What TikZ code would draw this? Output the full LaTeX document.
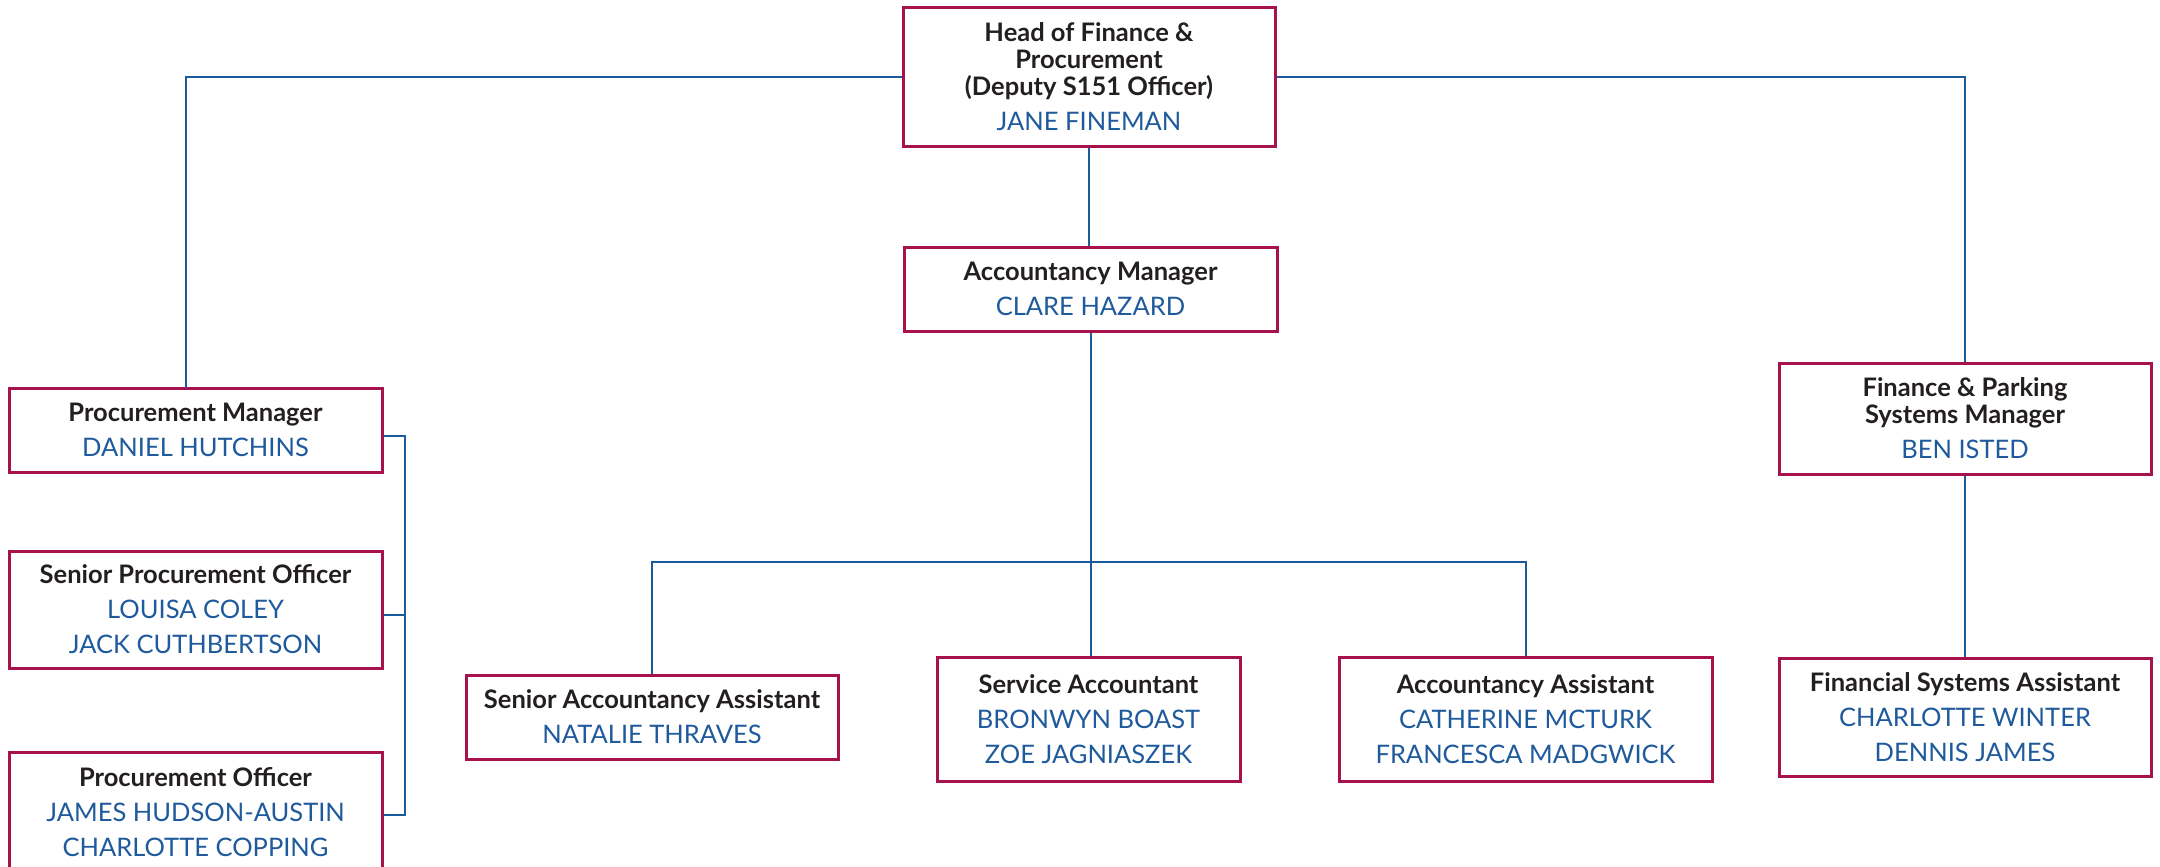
\documentclass[tikz,border=0pt]{standalone}
\usepackage{fontspec}
\setmainfont{Lato}
\definecolor{boxred}{HTML}{A8124C}
\definecolor{nameblue}{HTML}{1F5A9C}
\definecolor{lineblue}{HTML}{1C5A9E}
\definecolor{titleblack}{HTML}{231F20}
\newcommand{\ttl}[1]{{\bfseries\color{titleblack}#1}}
\newcommand{\nm}[1]{{\color{nameblue}#1}}
\tikzset{
  post/.style={draw=boxred, line width=3pt, fill=white, inner sep=0pt, align=center,
    font=\fontsize{25.5}{35}\selectfont},
  link/.style={draw=lineblue, line width=2pt}
}
\begin{document}
\begin{tikzpicture}[x=1pt,y=-1pt]
\useasboundingbox (0,0) rectangle (2160,867);
% nodes
\node[post, minimum width=372pt, minimum height=138pt] (head) at (1089,77)
  {\ttl{Head of Finance \&}\\[-8pt]\ttl{Procurement}\\[-8pt]\ttl{(Deputy S151 Officer)}\\\nm{JANE FINEMAN}};
\node[post, minimum width=373pt, minimum height=84pt] (acc) at (1090.5,289)
  {\ttl{Accountancy Manager}\\\nm{CLARE HAZARD}};
\node[post, minimum width=373pt, minimum height=84pt] (pm) at (195.5,430)
  {\ttl{Procurement Manager}\\\nm{DANIEL HUTCHINS}};
\node[post, minimum width=373pt, minimum height=117pt] (spo) at (195.5,609.5)
  {\ttl{Senior Procurement Officer}\\\nm{LOUISA COLEY}\\\nm{JACK CUTHBERTSON}};
\node[post, minimum width=373pt, minimum height=120pt] (po) at (195.5,812)
  {\ttl{Procurement Officer}\\\nm{JAMES HUDSON-AUSTIN}\\\nm{CHARLOTTE COPPING}};
\node[post, minimum width=372pt, minimum height=111pt] (fpsm) at (1965,418.5)
  {\ttl{Finance \& Parking}\\[-8pt]\ttl{Systems Manager}\\\nm{BEN ISTED}};
\node[post, minimum width=372pt, minimum height=118pt] (fsa) at (1965,717)
  {\ttl{Financial Systems Assistant}\\\nm{CHARLOTTE WINTER}\\\nm{DENNIS JAMES}};
\node[post, minimum width=372pt, minimum height=84pt] (saa) at (652,717)
  {\ttl{Senior Accountancy Assistant}\\\nm{NATALIE THRAVES}};
\node[post, minimum width=303pt, minimum height=124pt] (sa) at (1088.5,719.5)
  {\ttl{Service Accountant}\\\nm{BRONWYN BOAST}\\\nm{ZOE JAGNIASZEK}};
\node[post, minimum width=373pt, minimum height=124pt] (aa) at (1525.5,719.5)
  {\ttl{Accountancy Assistant}\\\nm{CATHERINE MCTURK}\\\nm{FRANCESCA MADGWICK}};
% helper coordinates
\coordinate (pmtop) at (186,388);
\coordinate (accbus) at (1090,562);
\coordinate (procbus) at (405,615);
% connectors
\draw[link] (head.west) -| (pmtop);
\draw[link] (head.east) -| (fpsm.north);
\draw[link] (head.south) -- (head.south |- acc.north);
\draw[link] (acc.south) -- (acc.south |- sa.north);
\draw[link] (saa.north) |- (accbus) -| (aa.north);
\draw[link] (fpsm.south) -- (fsa.north);
\draw[link] ([yshift=-6pt]pm.east) -| (procbus) |- ([yshift=-3pt]po.east);
\draw[link] ([yshift=-5.5pt]spo.east) -- (procbus);
\end{tikzpicture}
\end{document}
